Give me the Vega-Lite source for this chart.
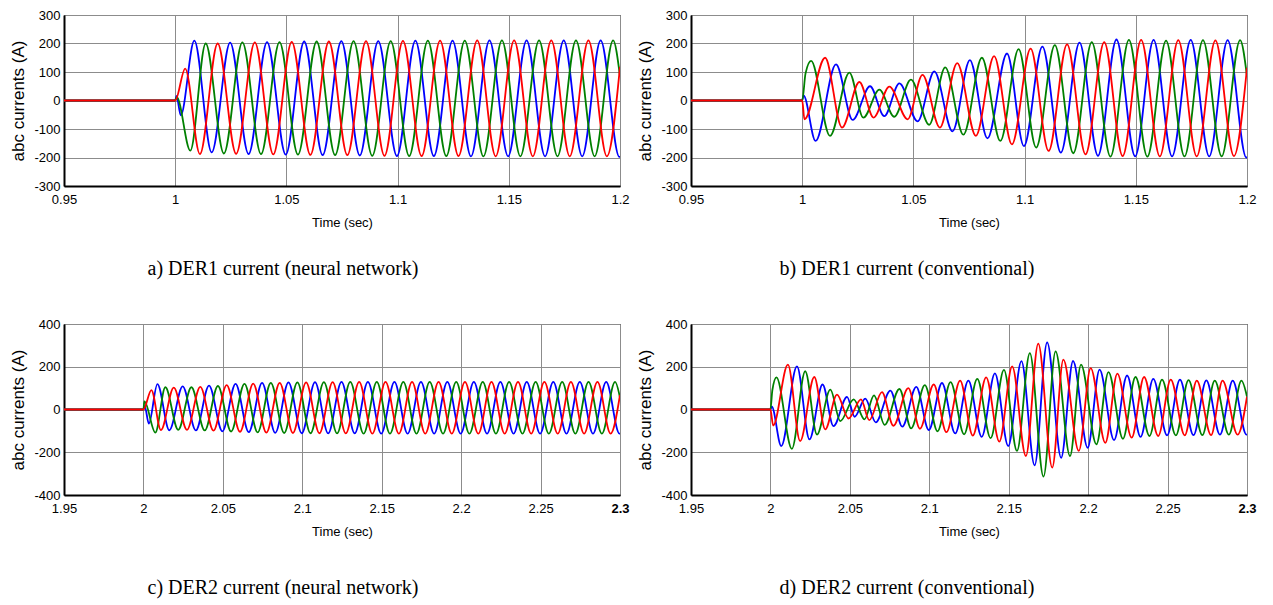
{
"$schema":"https://vega.github.io/schema/vega-lite/v6.json",
"padding":{"left":9,"top":8,"right":0,"bottom":0},
"config":{
 "view":{"stroke":"#000","strokeWidth":1},
 "axis":{"labelFont":"Liberation Sans","labelFontSize":13,"labelColor":"#000","titleFont":"Liberation Sans","titleFontWeight":"normal","titleColor":"#000","titleFontSize":13,"domainColor":"#000","domainWidth":2,"ticks":false,"gridColor":"#8c8c8c","gridWidth":1,"labelFlush":false,"labelOverlap":false,"labelPadding":4},
 "axisX":{"labelPadding":7},
 "title":{"font":"Liberation Serif","fontSize":20,"fontWeight":"normal","color":"#000"}
},
"datasets":{
"a":[
{"ph":"b","t":0.95,"v":0},{"ph":"b","t":1.0,"v":0},{"ph":"b","t":1.0006,"v":16},{"ph":"b","t":1.0025,"v":-52},{"ph":"b","t":1.0086,"v":210},{"ph":"b","t":1.0164,"v":-182},{"ph":"b","t":1.0247,"v":203},{"ph":"b","t":1.033,"v":-188},{"ph":"b","t":1.0413,"v":205},{"ph":"b","t":1.0497,"v":-190},{"ph":"b","t":1.058,"v":207},{"ph":"b","t":1.0663,"v":-192},{"ph":"b","t":1.0747,"v":208},{"ph":"b","t":1.083,"v":-193},{"ph":"b","t":1.0913,"v":208},{"ph":"b","t":1.0997,"v":-195},{"ph":"b","t":1.108,"v":210},{"ph":"b","t":1.1163,"v":-195},{"ph":"b","t":1.1247,"v":210},{"ph":"b","t":1.133,"v":-196},{"ph":"b","t":1.1413,"v":211},{"ph":"b","t":1.1497,"v":-196},{"ph":"b","t":1.158,"v":211},{"ph":"b","t":1.1663,"v":-196},{"ph":"b","t":1.1747,"v":211},{"ph":"b","t":1.183,"v":-196},{"ph":"b","t":1.1913,"v":211},{"ph":"b","t":1.1997,"v":-198},{"ph":"b","t":1.2,"v":-198},
{"ph":"g","t":0.95,"v":0},{"ph":"g","t":1.0,"v":0},{"ph":"g","t":1.0007,"v":12},{"ph":"g","t":1.0068,"v":-176},{"ph":"g","t":1.0137,"v":200},{"ph":"g","t":1.0219,"v":-186},{"ph":"g","t":1.0302,"v":204},{"ph":"g","t":1.0386,"v":-188},{"ph":"g","t":1.0469,"v":205},{"ph":"g","t":1.0552,"v":-190},{"ph":"g","t":1.0636,"v":207},{"ph":"g","t":1.0719,"v":-192},{"ph":"g","t":1.0802,"v":208},{"ph":"g","t":1.0886,"v":-194},{"ph":"g","t":1.0969,"v":208},{"ph":"g","t":1.1052,"v":-195},{"ph":"g","t":1.1136,"v":210},{"ph":"g","t":1.1219,"v":-195},{"ph":"g","t":1.1302,"v":210},{"ph":"g","t":1.1386,"v":-196},{"ph":"g","t":1.1469,"v":211},{"ph":"g","t":1.1552,"v":-196},{"ph":"g","t":1.1636,"v":211},{"ph":"g","t":1.1719,"v":-196},{"ph":"g","t":1.1802,"v":211},{"ph":"g","t":1.1886,"v":-196},{"ph":"g","t":1.1969,"v":211},{"ph":"g","t":1.2,"v":85},
{"ph":"r","t":0.95,"v":0},{"ph":"r","t":1.0,"v":0},{"ph":"r","t":1.0045,"v":112},{"ph":"r","t":1.0111,"v":-188},{"ph":"r","t":1.0191,"v":200},{"ph":"r","t":1.0274,"v":-187},{"ph":"r","t":1.0358,"v":204},{"ph":"r","t":1.0441,"v":-189},{"ph":"r","t":1.0524,"v":206},{"ph":"r","t":1.0608,"v":-191},{"ph":"r","t":1.0691,"v":207},{"ph":"r","t":1.0774,"v":-192},{"ph":"r","t":1.0858,"v":208},{"ph":"r","t":1.0941,"v":-194},{"ph":"r","t":1.1024,"v":209},{"ph":"r","t":1.1108,"v":-195},{"ph":"r","t":1.1191,"v":210},{"ph":"r","t":1.1274,"v":-195},{"ph":"r","t":1.1358,"v":211},{"ph":"r","t":1.1441,"v":-196},{"ph":"r","t":1.1524,"v":211},{"ph":"r","t":1.1608,"v":-196},{"ph":"r","t":1.1691,"v":211},{"ph":"r","t":1.1774,"v":-196},{"ph":"r","t":1.1858,"v":211},{"ph":"r","t":1.1941,"v":-196},{"ph":"r","t":1.2,"v":118}
],
"b":[
{"ph":"b","t":0.95,"v":0},{"ph":"b","t":1.0,"v":0},{"ph":"b","t":1.0006,"v":18},{"ph":"b","t":1.006,"v":-142},{"ph":"b","t":1.0152,"v":127},{"ph":"b","t":1.0227,"v":-68},{"ph":"b","t":1.0305,"v":50},{"ph":"b","t":1.0369,"v":-55},{"ph":"b","t":1.0437,"v":60},{"ph":"b","t":1.0519,"v":-73},{"ph":"b","t":1.0594,"v":102},{"ph":"b","t":1.0676,"v":-108},{"ph":"b","t":1.0754,"v":142},{"ph":"b","t":1.0833,"v":-133},{"ph":"b","t":1.0921,"v":165},{"ph":"b","t":1.0997,"v":-160},{"ph":"b","t":1.108,"v":189},{"ph":"b","t":1.1163,"v":-183},{"ph":"b","t":1.1247,"v":203},{"ph":"b","t":1.133,"v":-194},{"ph":"b","t":1.1413,"v":214},{"ph":"b","t":1.1497,"v":-196},{"ph":"b","t":1.158,"v":213},{"ph":"b","t":1.1663,"v":-196},{"ph":"b","t":1.1747,"v":213},{"ph":"b","t":1.183,"v":-196},{"ph":"b","t":1.1913,"v":212},{"ph":"b","t":1.1997,"v":-200},{"ph":"b","t":1.2,"v":-200},
{"ph":"g","t":0.95,"v":0},{"ph":"g","t":1.0,"v":0},{"ph":"g","t":1.0015,"v":95},{"ph":"g","t":1.004,"v":139},{"ph":"g","t":1.0125,"v":-124},{"ph":"g","t":1.0212,"v":98},{"ph":"g","t":1.0275,"v":-60},{"ph":"g","t":1.0347,"v":38},{"ph":"g","t":1.0414,"v":-57},{"ph":"g","t":1.0489,"v":73},{"ph":"g","t":1.0571,"v":-85},{"ph":"g","t":1.0643,"v":116},{"ph":"g","t":1.0725,"v":-120},{"ph":"g","t":1.0808,"v":150},{"ph":"g","t":1.0891,"v":-142},{"ph":"g","t":1.0973,"v":180},{"ph":"g","t":1.1052,"v":-165},{"ph":"g","t":1.1136,"v":194},{"ph":"g","t":1.1219,"v":-185},{"ph":"g","t":1.1302,"v":205},{"ph":"g","t":1.1386,"v":-197},{"ph":"g","t":1.1469,"v":213},{"ph":"g","t":1.1552,"v":-197},{"ph":"g","t":1.1636,"v":210},{"ph":"g","t":1.1719,"v":-196},{"ph":"g","t":1.1802,"v":212},{"ph":"g","t":1.1886,"v":-196},{"ph":"g","t":1.1969,"v":212},{"ph":"g","t":1.2,"v":85},
{"ph":"r","t":0.95,"v":0},{"ph":"r","t":1.0,"v":0},{"ph":"r","t":1.001,"v":-66},{"ph":"r","t":1.0103,"v":150},{"ph":"r","t":1.0179,"v":-95},{"ph":"r","t":1.0257,"v":65},{"ph":"r","t":1.0321,"v":-60},{"ph":"r","t":1.0392,"v":49},{"ph":"r","t":1.0474,"v":-66},{"ph":"r","t":1.0541,"v":90},{"ph":"r","t":1.0619,"v":-95},{"ph":"r","t":1.0697,"v":131},{"ph":"r","t":1.0781,"v":-124},{"ph":"r","t":1.0863,"v":156},{"ph":"r","t":1.0943,"v":-154},{"ph":"r","t":1.1027,"v":182},{"ph":"r","t":1.1108,"v":-177},{"ph":"r","t":1.1191,"v":197},{"ph":"r","t":1.1274,"v":-189},{"ph":"r","t":1.1358,"v":205},{"ph":"r","t":1.1441,"v":-195},{"ph":"r","t":1.1524,"v":213},{"ph":"r","t":1.1608,"v":-196},{"ph":"r","t":1.1691,"v":212},{"ph":"r","t":1.1774,"v":-196},{"ph":"r","t":1.1858,"v":211},{"ph":"r","t":1.1941,"v":-195},{"ph":"r","t":1.2,"v":115}
],
"c":[
{"ph":"b","t":1.95,"v":0},{"ph":"b","t":2.0,"v":0},{"ph":"b","t":2.0008,"v":16},{"ph":"b","t":2.0034,"v":-66},{"ph":"b","t":2.0088,"v":119},{"ph":"b","t":2.0163,"v":-97},{"ph":"b","t":2.0247,"v":108},{"ph":"b","t":2.033,"v":-98},{"ph":"b","t":2.0413,"v":112},{"ph":"b","t":2.0497,"v":-102},{"ph":"b","t":2.058,"v":120},{"ph":"b","t":2.0663,"v":-106},{"ph":"b","t":2.0747,"v":125},{"ph":"b","t":2.083,"v":-109},{"ph":"b","t":2.0913,"v":127},{"ph":"b","t":2.0997,"v":-111},{"ph":"b","t":2.108,"v":128},{"ph":"b","t":2.1163,"v":-112},{"ph":"b","t":2.1247,"v":129},{"ph":"b","t":2.133,"v":-112},{"ph":"b","t":2.1413,"v":129},{"ph":"b","t":2.1497,"v":-113},{"ph":"b","t":2.158,"v":129},{"ph":"b","t":2.1663,"v":-113},{"ph":"b","t":2.1747,"v":129},{"ph":"b","t":2.183,"v":-113},{"ph":"b","t":2.1913,"v":129},{"ph":"b","t":2.1997,"v":-113},{"ph":"b","t":2.208,"v":129},{"ph":"b","t":2.2163,"v":-113},{"ph":"b","t":2.2247,"v":129},{"ph":"b","t":2.233,"v":-113},{"ph":"b","t":2.2413,"v":129},{"ph":"b","t":2.2497,"v":-113},{"ph":"b","t":2.258,"v":129},{"ph":"b","t":2.2663,"v":-113},{"ph":"b","t":2.2747,"v":129},{"ph":"b","t":2.283,"v":-113},{"ph":"b","t":2.2913,"v":129},{"ph":"b","t":2.2997,"v":-113},{"ph":"b","t":2.3,"v":-113},
{"ph":"g","t":1.95,"v":0},{"ph":"g","t":2.0,"v":0},{"ph":"g","t":2.0006,"v":38},{"ph":"g","t":2.0075,"v":-108},{"ph":"g","t":2.0138,"v":104},{"ph":"g","t":2.0219,"v":-95},{"ph":"g","t":2.0302,"v":104},{"ph":"g","t":2.0386,"v":-98},{"ph":"g","t":2.0469,"v":110},{"ph":"g","t":2.0552,"v":-103},{"ph":"g","t":2.0636,"v":120},{"ph":"g","t":2.0719,"v":-107},{"ph":"g","t":2.0802,"v":125},{"ph":"g","t":2.0886,"v":-110},{"ph":"g","t":2.0969,"v":127},{"ph":"g","t":2.1052,"v":-111},{"ph":"g","t":2.1136,"v":128},{"ph":"g","t":2.1219,"v":-112},{"ph":"g","t":2.1302,"v":129},{"ph":"g","t":2.1386,"v":-113},{"ph":"g","t":2.1469,"v":129},{"ph":"g","t":2.1552,"v":-113},{"ph":"g","t":2.1636,"v":129},{"ph":"g","t":2.1719,"v":-113},{"ph":"g","t":2.1802,"v":129},{"ph":"g","t":2.1886,"v":-113},{"ph":"g","t":2.1969,"v":129},{"ph":"g","t":2.2052,"v":-113},{"ph":"g","t":2.2136,"v":129},{"ph":"g","t":2.2219,"v":-113},{"ph":"g","t":2.2302,"v":129},{"ph":"g","t":2.2386,"v":-113},{"ph":"g","t":2.2469,"v":129},{"ph":"g","t":2.2552,"v":-113},{"ph":"g","t":2.2636,"v":129},{"ph":"g","t":2.2719,"v":-113},{"ph":"g","t":2.2802,"v":129},{"ph":"g","t":2.2886,"v":-113},{"ph":"g","t":2.2969,"v":129},{"ph":"g","t":2.3,"v":55},
{"ph":"r","t":1.95,"v":0},{"ph":"r","t":2.0,"v":0},{"ph":"r","t":2.005,"v":91},{"ph":"r","t":2.011,"v":-96},{"ph":"r","t":2.0191,"v":102},{"ph":"r","t":2.0274,"v":-95},{"ph":"r","t":2.0358,"v":106},{"ph":"r","t":2.0441,"v":-99},{"ph":"r","t":2.0524,"v":114},{"ph":"r","t":2.0608,"v":-104},{"ph":"r","t":2.0691,"v":121},{"ph":"r","t":2.0774,"v":-108},{"ph":"r","t":2.0858,"v":125},{"ph":"r","t":2.0941,"v":-110},{"ph":"r","t":2.1024,"v":127},{"ph":"r","t":2.1108,"v":-111},{"ph":"r","t":2.1191,"v":128},{"ph":"r","t":2.1274,"v":-112},{"ph":"r","t":2.1358,"v":129},{"ph":"r","t":2.1441,"v":-113},{"ph":"r","t":2.1524,"v":129},{"ph":"r","t":2.1608,"v":-113},{"ph":"r","t":2.1691,"v":129},{"ph":"r","t":2.1774,"v":-113},{"ph":"r","t":2.1858,"v":129},{"ph":"r","t":2.1941,"v":-113},{"ph":"r","t":2.2024,"v":129},{"ph":"r","t":2.2108,"v":-113},{"ph":"r","t":2.2191,"v":129},{"ph":"r","t":2.2274,"v":-113},{"ph":"r","t":2.2358,"v":129},{"ph":"r","t":2.2441,"v":-113},{"ph":"r","t":2.2524,"v":129},{"ph":"r","t":2.2608,"v":-113},{"ph":"r","t":2.2691,"v":129},{"ph":"r","t":2.2774,"v":-113},{"ph":"r","t":2.2858,"v":129},{"ph":"r","t":2.2941,"v":-113},{"ph":"r","t":2.3,"v":68}
],
"d":[
{"ph":"b","t":1.95,"v":0},{"ph":"b","t":2.0,"v":0},{"ph":"b","t":2.0008,"v":15},{"ph":"b","t":2.0068,"v":-171},{"ph":"b","t":2.0167,"v":202},{"ph":"b","t":2.0246,"v":-140},{"ph":"b","t":2.0328,"v":117},{"ph":"b","t":2.0397,"v":-78},{"ph":"b","t":2.0482,"v":59},{"ph":"b","t":2.053,"v":-34},{"ph":"b","t":2.0597,"v":51},{"ph":"b","t":2.0663,"v":-60},{"ph":"b","t":2.0755,"v":88},{"ph":"b","t":2.083,"v":-80},{"ph":"b","t":2.0918,"v":106},{"ph":"b","t":2.0997,"v":-96},{"ph":"b","t":2.108,"v":124},{"ph":"b","t":2.1163,"v":-112},{"ph":"b","t":2.1246,"v":135},{"ph":"b","t":2.133,"v":-128},{"ph":"b","t":2.1413,"v":169},{"ph":"b","t":2.1497,"v":-171},{"ph":"b","t":2.158,"v":226},{"ph":"b","t":2.1663,"v":-261},{"ph":"b","t":2.1742,"v":314},{"ph":"b","t":2.183,"v":-226},{"ph":"b","t":2.1905,"v":227},{"ph":"b","t":2.1997,"v":-179},{"ph":"b","t":2.2072,"v":187},{"ph":"b","t":2.2163,"v":-143},{"ph":"b","t":2.2245,"v":159},{"ph":"b","t":2.233,"v":-128},{"ph":"b","t":2.241,"v":143},{"ph":"b","t":2.2497,"v":-121},{"ph":"b","t":2.2578,"v":140},{"ph":"b","t":2.2663,"v":-120},{"ph":"b","t":2.2744,"v":136},{"ph":"b","t":2.283,"v":-118},{"ph":"b","t":2.291,"v":135},{"ph":"b","t":2.2997,"v":-118},{"ph":"b","t":2.3,"v":-118},
{"ph":"g","t":1.95,"v":0},{"ph":"g","t":2.0,"v":0},{"ph":"g","t":2.0012,"v":90},{"ph":"g","t":2.0038,"v":150},{"ph":"g","t":2.0135,"v":-184},{"ph":"g","t":2.0219,"v":179},{"ph":"g","t":2.0293,"v":-117},{"ph":"g","t":2.0377,"v":93},{"ph":"g","t":2.044,"v":-54},{"ph":"g","t":2.0524,"v":47},{"ph":"g","t":2.0592,"v":-46},{"ph":"g","t":2.0652,"v":66},{"ph":"g","t":2.0719,"v":-72},{"ph":"g","t":2.0812,"v":96},{"ph":"g","t":2.0886,"v":-88},{"ph":"g","t":2.0972,"v":114},{"ph":"g","t":2.1052,"v":-102},{"ph":"g","t":2.1134,"v":128},{"ph":"g","t":2.1219,"v":-116},{"ph":"g","t":2.1302,"v":143},{"ph":"g","t":2.1386,"v":-134},{"ph":"g","t":2.147,"v":185},{"ph":"g","t":2.1552,"v":-194},{"ph":"g","t":2.1633,"v":264},{"ph":"g","t":2.1719,"v":-314},{"ph":"g","t":2.1795,"v":272},{"ph":"g","t":2.1886,"v":-218},{"ph":"g","t":2.1955,"v":210},{"ph":"g","t":2.2052,"v":-163},{"ph":"g","t":2.2128,"v":175},{"ph":"g","t":2.2219,"v":-137},{"ph":"g","t":2.2298,"v":152},{"ph":"g","t":2.2386,"v":-124},{"ph":"g","t":2.2465,"v":140},{"ph":"g","t":2.2552,"v":-121},{"ph":"g","t":2.2632,"v":137},{"ph":"g","t":2.2719,"v":-120},{"ph":"g","t":2.2797,"v":135},{"ph":"g","t":2.2886,"v":-118},{"ph":"g","t":2.2965,"v":135},{"ph":"g","t":2.3,"v":60},
{"ph":"r","t":1.95,"v":0},{"ph":"r","t":2.0,"v":0},{"ph":"r","t":2.0017,"v":-75},{"ph":"r","t":2.011,"v":210},{"ph":"r","t":2.0187,"v":-148},{"ph":"r","t":2.0276,"v":152},{"ph":"r","t":2.0345,"v":-93},{"ph":"r","t":2.0419,"v":70},{"ph":"r","t":2.0492,"v":-42},{"ph":"r","t":2.057,"v":47},{"ph":"r","t":2.0622,"v":-50},{"ph":"r","t":2.0702,"v":81},{"ph":"r","t":2.0774,"v":-76},{"ph":"r","t":2.0868,"v":100},{"ph":"r","t":2.0941,"v":-90},{"ph":"r","t":2.1028,"v":117},{"ph":"r","t":2.1108,"v":-106},{"ph":"r","t":2.1194,"v":135},{"ph":"r","t":2.1274,"v":-122},{"ph":"r","t":2.1358,"v":150},{"ph":"r","t":2.1441,"v":-150},{"ph":"r","t":2.1522,"v":202},{"ph":"r","t":2.1608,"v":-218},{"ph":"r","t":2.1686,"v":308},{"ph":"r","t":2.1774,"v":-272},{"ph":"r","t":2.1844,"v":233},{"ph":"r","t":2.1941,"v":-194},{"ph":"r","t":2.2016,"v":194},{"ph":"r","t":2.2108,"v":-156},{"ph":"r","t":2.2184,"v":168},{"ph":"r","t":2.2274,"v":-132},{"ph":"r","t":2.2352,"v":152},{"ph":"r","t":2.2441,"v":-124},{"ph":"r","t":2.252,"v":140},{"ph":"r","t":2.2608,"v":-121},{"ph":"r","t":2.2684,"v":135},{"ph":"r","t":2.2774,"v":-120},{"ph":"r","t":2.2846,"v":135},{"ph":"r","t":2.2941,"v":-118},{"ph":"r","t":2.3,"v":60}
]
},
"columns":2,
"spacing":{"row":138,"column":71},
"bounds":"flush",
"concat":[
{"width":556,"height":171,"data":{"name":"a"},
 "title":{"text":"a) DER1 current (neural network)","orient":"bottom","anchor":"middle","dx":-59,"offset":30},
 "encoding":{
  "x":{"field":"t","type":"quantitative","scale":{"domain":[0.95,1.2],"nice":false,"zero":false},"axis":{"values":[0.95,1,1.05,1.1,1.15,1.2],"labelExpr":"''+datum.value","title":"Time (sec)","titlePadding":10}},
  "y":{"field":"v","type":"quantitative","scale":{"domain":[-300,300],"nice":false},"axis":{"values":[-300,-200,-100,0,100,200,300],"labelExpr":"''+datum.value","title":"abc currents (A)","titleFontSize":17,"titlePadding":6}}},
 "layer":[
  {"transform":[{"filter":"datum.ph==='b'"}],"mark":{"type":"line","color":"#0000ff","strokeWidth":1.8,"interpolate":"monotone","clip":true}},
  {"transform":[{"filter":"datum.ph==='g'"}],"mark":{"type":"line","color":"#008000","strokeWidth":1.8,"interpolate":"monotone","clip":true}},
  {"transform":[{"filter":"datum.ph==='r'"}],"mark":{"type":"line","color":"#ff0000","strokeWidth":1.8,"interpolate":"monotone","clip":true}}
 ]},
{"width":556,"height":171,"data":{"name":"b"},
 "title":{"text":"b) DER1 current (conventional)","orient":"bottom","anchor":"middle","dx":-62,"offset":30},
 "encoding":{
  "x":{"field":"t","type":"quantitative","scale":{"domain":[0.95,1.2],"nice":false,"zero":false},"axis":{"values":[0.95,1,1.05,1.1,1.15,1.2],"labelExpr":"''+datum.value","title":"Time (sec)","titlePadding":10}},
  "y":{"field":"v","type":"quantitative","scale":{"domain":[-300,300],"nice":false},"axis":{"values":[-300,-200,-100,0,100,200,300],"labelExpr":"''+datum.value","title":"abc currents (A)","titleFontSize":17,"titlePadding":6}}},
 "layer":[
  {"transform":[{"filter":"datum.ph==='b'"}],"mark":{"type":"line","color":"#0000ff","strokeWidth":1.8,"interpolate":"monotone","clip":true}},
  {"transform":[{"filter":"datum.ph==='g'"}],"mark":{"type":"line","color":"#008000","strokeWidth":1.8,"interpolate":"monotone","clip":true}},
  {"transform":[{"filter":"datum.ph==='r'"}],"mark":{"type":"line","color":"#ff0000","strokeWidth":1.8,"interpolate":"monotone","clip":true}}
 ]},
{"width":556,"height":171,"data":{"name":"c"},
 "title":{"text":"c) DER2 current (neural network)","orient":"bottom","anchor":"middle","dx":-59,"offset":40},
 "encoding":{
  "x":{"field":"t","type":"quantitative","scale":{"domain":[1.95,2.3],"nice":false,"zero":false},"axis":{"values":[1.95,2,2.05,2.1,2.15,2.2,2.25,2.3],"labelExpr":"''+datum.value","labelFontWeight":{"condition":{"test":"datum.value==2.3","value":"bold"},"value":"normal"},"title":"Time (sec)","titlePadding":10}},
  "y":{"field":"v","type":"quantitative","scale":{"domain":[-400,400],"nice":false},"axis":{"values":[-400,-200,0,200,400],"labelExpr":"''+datum.value","title":"abc currents (A)","titleFontSize":17,"titlePadding":6}}},
 "layer":[
  {"transform":[{"filter":"datum.ph==='b'"}],"mark":{"type":"line","color":"#0000ff","strokeWidth":1.8,"interpolate":"monotone","clip":true}},
  {"transform":[{"filter":"datum.ph==='g'"}],"mark":{"type":"line","color":"#008000","strokeWidth":1.8,"interpolate":"monotone","clip":true}},
  {"transform":[{"filter":"datum.ph==='r'"}],"mark":{"type":"line","color":"#ff0000","strokeWidth":1.8,"interpolate":"monotone","clip":true}}
 ]},
{"width":556,"height":171,"data":{"name":"d"},
 "title":{"text":"d) DER2 current (conventional)","orient":"bottom","anchor":"middle","dx":-62,"offset":40},
 "encoding":{
  "x":{"field":"t","type":"quantitative","scale":{"domain":[1.95,2.3],"nice":false,"zero":false},"axis":{"values":[1.95,2,2.05,2.1,2.15,2.2,2.25,2.3],"labelExpr":"''+datum.value","labelFontWeight":{"condition":{"test":"datum.value==2.3","value":"bold"},"value":"normal"},"title":"Time (sec)","titlePadding":10}},
  "y":{"field":"v","type":"quantitative","scale":{"domain":[-400,400],"nice":false},"axis":{"values":[-400,-200,0,200,400],"labelExpr":"''+datum.value","title":"abc currents (A)","titleFontSize":17,"titlePadding":6}}},
 "layer":[
  {"transform":[{"filter":"datum.ph==='b'"}],"mark":{"type":"line","color":"#0000ff","strokeWidth":1.8,"interpolate":"monotone","clip":true}},
  {"transform":[{"filter":"datum.ph==='g'"}],"mark":{"type":"line","color":"#008000","strokeWidth":1.8,"interpolate":"monotone","clip":true}},
  {"transform":[{"filter":"datum.ph==='r'"}],"mark":{"type":"line","color":"#ff0000","strokeWidth":1.8,"interpolate":"monotone","clip":true}}
 ]}
]
}
